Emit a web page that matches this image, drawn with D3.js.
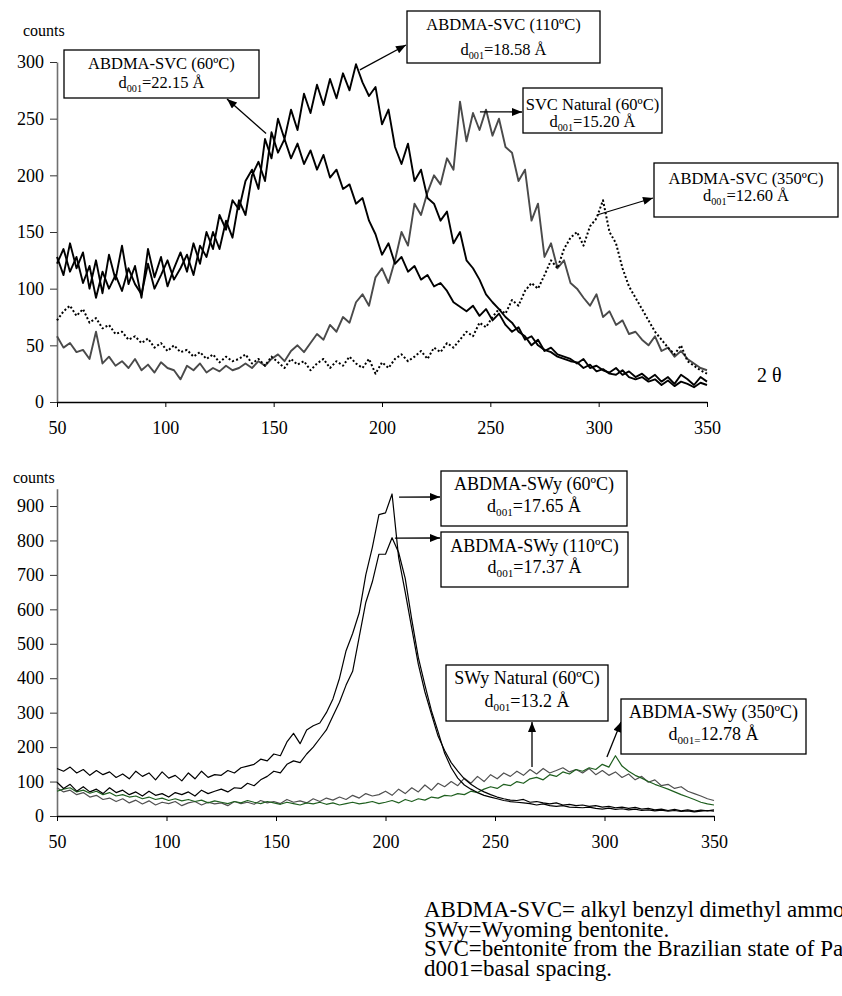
<!DOCTYPE html>
<html>
<head>
<meta charset="utf-8">
<title>XRD patterns ABDMA-SVC / ABDMA-SWy</title>
<script src="https://d3js.org/d3.v7.min.js"></script>
<style>
	body{
		margin: 0;
		background-color: #fff;
		overflow: hidden;
	}
	svg{
		display: block;
		font-family: "Liberation Serif", "Times New Roman", serif;
	}
	.axis text{
		font-family: "Liberation Serif", "Times New Roman", serif;
		font-size: 18px;
		fill: #000;
	}
	.ann rect{
		fill: #fff;
		stroke: #000;
		stroke-width: 1.3px;
	}
</style>
</head>
<body>
<div id="chart"></div>

<script>
// 2 theta sampling (x), read every 3 units off the picture
var twoTheta = d3.range(50, 351, 3);
var xTicks = [50, 100, 150, 200, 250, 300, 350];
var topYTicks = [0, 50, 100, 150, 200, 250, 300];
var botYTicks = [0, 100, 200, 300, 400, 500, 600, 700, 800, 900];

// top panel: SVC samples
var svc60 = [
	122,135,115,128,105,120,92,115,100,112,
	98,118,104,95,122,100,112,125,108,118,
	130,112,138,128,150,135,160,145,178,165,
	200,212,195,238,220,232,215,228,210,222,
	205,218,198,205,188,192,175,180,160,148,
	130,140,122,128,115,120,108,112,102,105,
	98,88,84,80,85,76,82,72,78,68,
	62,66,55,58,50,46,44,40,38,36,
	35,30,33,27,29,25,24,28,22,20,
	22,18,20,15,19,14,18,16,13,17,
	15];
var svc110 = [
	128,112,140,118,132,100,125,96,130,108,
	138,104,120,92,135,110,128,102,118,132,
	115,140,122,150,135,165,152,178,170,195,
	205,188,232,215,250,232,258,240,272,255,
	280,262,285,268,290,275,298,282,270,278,
	245,258,225,210,228,195,205,180,175,160,
	168,140,150,125,118,108,95,88,82,75,
	70,62,58,50,55,45,48,42,40,38,
	34,38,30,32,28,26,30,24,27,22,
	25,20,24,18,22,16,24,20,15,22,
	18];
var svcNatural = [
	58,48,52,44,46,38,62,34,40,32,
	36,30,38,28,33,26,35,30,28,20,
	32,28,34,26,30,27,32,28,30,34,
	30,36,32,38,42,36,45,50,44,52,
	60,55,68,62,75,70,88,95,85,110,
	118,105,125,150,138,175,165,185,200,192,
	215,205,265,230,255,240,258,235,250,225,
	220,195,205,160,175,128,140,118,125,105,
	100,92,85,95,75,80,68,72,60,62,
	55,50,58,45,48,40,45,38,34,30,
	28];
var svc350 = [
	72,80,85,76,82,70,74,65,68,60,
	62,55,58,52,56,48,52,45,50,44,
	46,40,44,38,42,35,40,36,38,42,
	34,38,32,40,35,30,38,33,36,28,
	34,38,30,36,32,40,34,30,38,25,
	35,30,38,42,36,40,45,38,48,44,
	52,48,55,62,58,70,66,75,82,78,
	90,85,98,105,100,112,125,118,135,145,
	150,138,155,162,178,150,140,118,102,92,
	82,72,62,55,48,42,50,36,32,28,
	25];

// bottom panel: SWy samples
var swy60 = [
	138,130,142,125,135,118,132,120,128,112,
	122,108,130,115,125,105,128,110,118,102,
	125,108,130,112,120,118,132,125,140,145,
	150,165,160,180,175,215,240,210,250,262,
	270,300,340,400,480,530,590,700,780,875,
	880,935,750,650,545,440,360,295,232,190,
	155,130,108,92,80,70,62,55,50,46,
	45,48,40,42,38,35,38,32,34,30,
	32,28,30,26,28,24,26,22,25,20,
	22,18,20,16,19,15,18,14,17,15,
	18];
var swy110 = [
	98,80,92,72,85,70,78,65,82,68,
	75,62,70,58,72,60,65,55,68,62,
	70,58,75,65,72,78,70,82,80,95,
	88,105,115,130,125,150,160,155,180,200,
	225,250,290,330,380,420,520,620,680,760,
	760,808,765,690,570,460,380,305,245,182,
	140,110,90,78,68,60,55,50,45,42,
	40,38,36,32,35,30,28,30,26,25,
	24,26,22,20,23,19,21,18,20,16,
	18,15,17,14,16,13,15,12,14,16,
	14];
var swyNatural = [
	82,70,75,62,68,55,60,48,52,42,
	50,38,46,35,44,32,40,36,42,30,
	38,42,32,40,35,38,30,42,36,40,
	34,45,38,42,36,48,40,44,38,50,
	42,52,46,55,48,60,52,65,58,62,
	72,60,78,65,82,70,90,75,95,85,
	100,88,110,95,115,100,120,108,125,115,
	130,118,135,122,138,125,132,140,128,135,
	125,138,120,132,118,128,112,122,105,115,
	98,105,88,92,80,85,72,65,58,50,
	45];
var swy350 = [
	72,78,82,70,75,66,72,62,68,58,
	62,55,58,50,55,48,52,45,50,44,
	48,42,46,38,44,40,36,42,38,45,
	40,36,42,38,34,40,36,32,38,35,
	40,34,38,32,36,40,35,38,42,36,
	40,45,38,48,42,50,46,55,52,60,
	58,65,62,72,68,78,85,80,92,88,
	100,95,108,112,105,120,115,128,122,135,
	130,140,135,150,142,175,145,130,118,110,
	100,92,85,78,70,62,55,48,40,35,
	32];

var width = 842, height = 996;

var svg = d3.select('#chart')
	.append('svg')
	.attr('width', width)
	.attr('height', height);

// arrow head
svg.append('defs').append('marker')
	.attr('id', 'head')
	.attr('viewBox', '0 0 10 8')
	.attr('refX', 10)
	.attr('refY', 4)
	.attr('markerWidth', 11)
	.attr('markerHeight', 8)
	.attr('markerUnits', 'userSpaceOnUse')
	.attr('orient', 'auto')
	.append('path')
	.attr('d', 'M0,0 L10,4 L0,8 Z')
	.attr('fill', '#000');

function drawPanel(p){
	var xScale = d3.scaleLinear().domain([50, 350]).range(p.xRange);
	var yScale = d3.scaleLinear().domain([0, p.yMax]).range(p.yRange);
	var g = svg.append('g');

	var xAxis = d3.axisBottom(xScale).tickValues(xTicks).tickSize(5).tickSizeOuter(0).tickPadding(p.xPad);
	var yAxis = d3.axisLeft(yScale).tickValues(p.yTicks).tickSize(7).tickSizeOuter(0).tickPadding(6);

	var yG = g.append('g')
		.attr('class', 'axis')
		.attr('transform', 'translate(' + p.xRange[0] + ',0)')
		.call(yAxis);
	yG.attr('font-family', null).attr('font-size', null);
	yG.select('.domain').attr('stroke', '#707070').attr('stroke-width', 1.6);
	yG.selectAll('.tick line').attr('stroke', '#333');

	var xG = g.append('g')
		.attr('class', 'axis')
		.attr('transform', 'translate(0,' + p.yRange[0] + ')')
		.call(xAxis);
	xG.attr('font-family', null).attr('font-size', null);
	xG.select('.domain').attr('stroke', '#000').attr('stroke-width', 1.4);

	var line = d3.line()
		.x(function(d, i){ return xScale(twoTheta[i]); })
		.y(function(d){ return yScale(d); });

	p.series.forEach(function(s){
		g.append('path')
			.datum(s.values)
			.attr('fill', 'none')
			.attr('stroke', s.color)
			.attr('stroke-width', s.width)
			.attr('stroke-linejoin', 'round')
			.attr('stroke-dasharray', s.dash || null)
			.attr('d', line);
	});

	g.append('text')
		.attr('x', p.countsPos[0])
		.attr('y', p.countsPos[1])
		.attr('font-size', 16)
		.text('counts');

	// annotation boxes
	p.notes.forEach(function(n){
		var a = g.append('g').attr('class', 'ann');
		a.append('line')
			.attr('x1', xScale(n.from[0]))
			.attr('y1', yScale(n.from[1]))
			.attr('x2', n.to[0])
			.attr('y2', n.to[1])
			.attr('stroke', '#000')
			.attr('stroke-width', 1.3)
			.attr('marker-end', 'url(#head)');
		a.append('rect')
			.attr('x', n.box[0]).attr('y', n.box[1])
			.attr('width', n.box[2]).attr('height', n.box[3]);
		var cx = n.box[0] + n.box[2] / 2;
		a.append('text')
			.attr('x', cx)
			.attr('y', n.lines[0])
			.attr('text-anchor', 'middle')
			.attr('font-size', p.noteFont)
			.text(n.title);
		var t = a.append('text')
			.attr('x', cx)
			.attr('y', n.lines[1])
			.attr('text-anchor', 'middle')
			.attr('font-size', p.noteFont);
		t.append('tspan').text('d');
		t.append('tspan').attr('font-size', p.noteFont * 0.62).attr('dy', 4).text(n.smallEq ? '001=' : '001');
		t.append('tspan').attr('dy', -4).text((n.smallEq ? '' : '=') + n.d + ' Å');
	});
}

drawPanel({
	xRange: [57, 707],
	yRange: [402, 62],
	yMax: 300,
	yTicks: topYTicks,
	xPad: 14,
	countsPos: [23, 36],
	noteFont: 16.5,
	series: [
		{values: svcNatural, color: '#4a4a4a', width: 1.9},
		{values: svc350, color: '#000', width: 2, dash: '2,2.2'},
		{values: svc60, color: '#000', width: 1.9},
		{values: svc110, color: '#000', width: 1.9}
	],
	notes: [
		{title: 'ABDMA-SVC (60ºC)', d: '22.15', box: [64, 50, 195, 48], lines: [69, 88], from: [146.5, 237], to: [227, 99]},
		{title: 'ABDMA-SVC (110ºC)', d: '18.58', box: [407, 11, 193, 52], lines: [30, 55], from: [189.8, 293], to: [406, 45]},
		{title: 'SVC Natural (60ºC)', d: '15.20', box: [523, 88, 139, 45], lines: [110, 127], from: [245.2, 256], to: [522, 112]},
		{title: 'ABDMA-SVC (350ºC)', d: '12.60', box: [654, 163, 184, 54], lines: [184, 201], from: [299.2, 165], to: [653, 198]}
	]
});

drawPanel({
	xRange: [57, 714],
	yRange: [816, 816 - 950 * 0.34444],
	yMax: 950,
	yTicks: botYTicks,
	xPad: 14,
	countsPos: [13, 483],
	noteFont: 18,
	series: [
		{values: swyNatural, color: '#505050', width: 1.2},
		{values: swy350, color: '#1f5f1f', width: 1.2},
		{values: swy110, color: '#000', width: 1.2},
		{values: swy60, color: '#000', width: 1.2}
	],
	notes: [
		{title: 'ABDMA-SWy (60ºC)', d: '17.65', box: [441, 471, 186, 55], lines: [490, 512], from: [206.2, 926], to: [440, 497]},
		{title: 'ABDMA-SWy (110ºC)', d: '17.37', box: [441, 532, 187, 55], lines: [552, 573], from: [204.3, 807], to: [440, 538]},
		{title: 'SWy Natural (60ºC)', d: '13.2', box: [446, 665, 162, 56], lines: [684, 707], from: [266.9, 142], to: [532, 722]},
		{title: 'ABDMA-SWy (350ºC)', d: '12.78', box: [621, 699, 185, 55], lines: [718, 740], from: [301.1, 171], to: [621, 722], smallEq: true}
	]
});

svg.append('text')
	.attr('x', 757)
	.attr('y', 382)
	.attr('font-size', 20)
	.text('2 θ');

var footnotes = [
	'ABDMA-SVC= alkyl benzyl dimethyl ammonium bentonite.',
	'SWy=Wyoming bentonite.',
	'SVC=bentonite from the Brazilian state of Paraíba.',
	'd001=basal spacing.'
];
svg.append('g').selectAll('text')
	.data(footnotes)
	.enter()
	.append('text')
	.attr('x', 424)
	.attr('y', function(d, i){ return 917 + i * 19.7; })
	.attr('font-size', 23)
	.text(function(d){ return d; });
</script>
</body>
</html>
